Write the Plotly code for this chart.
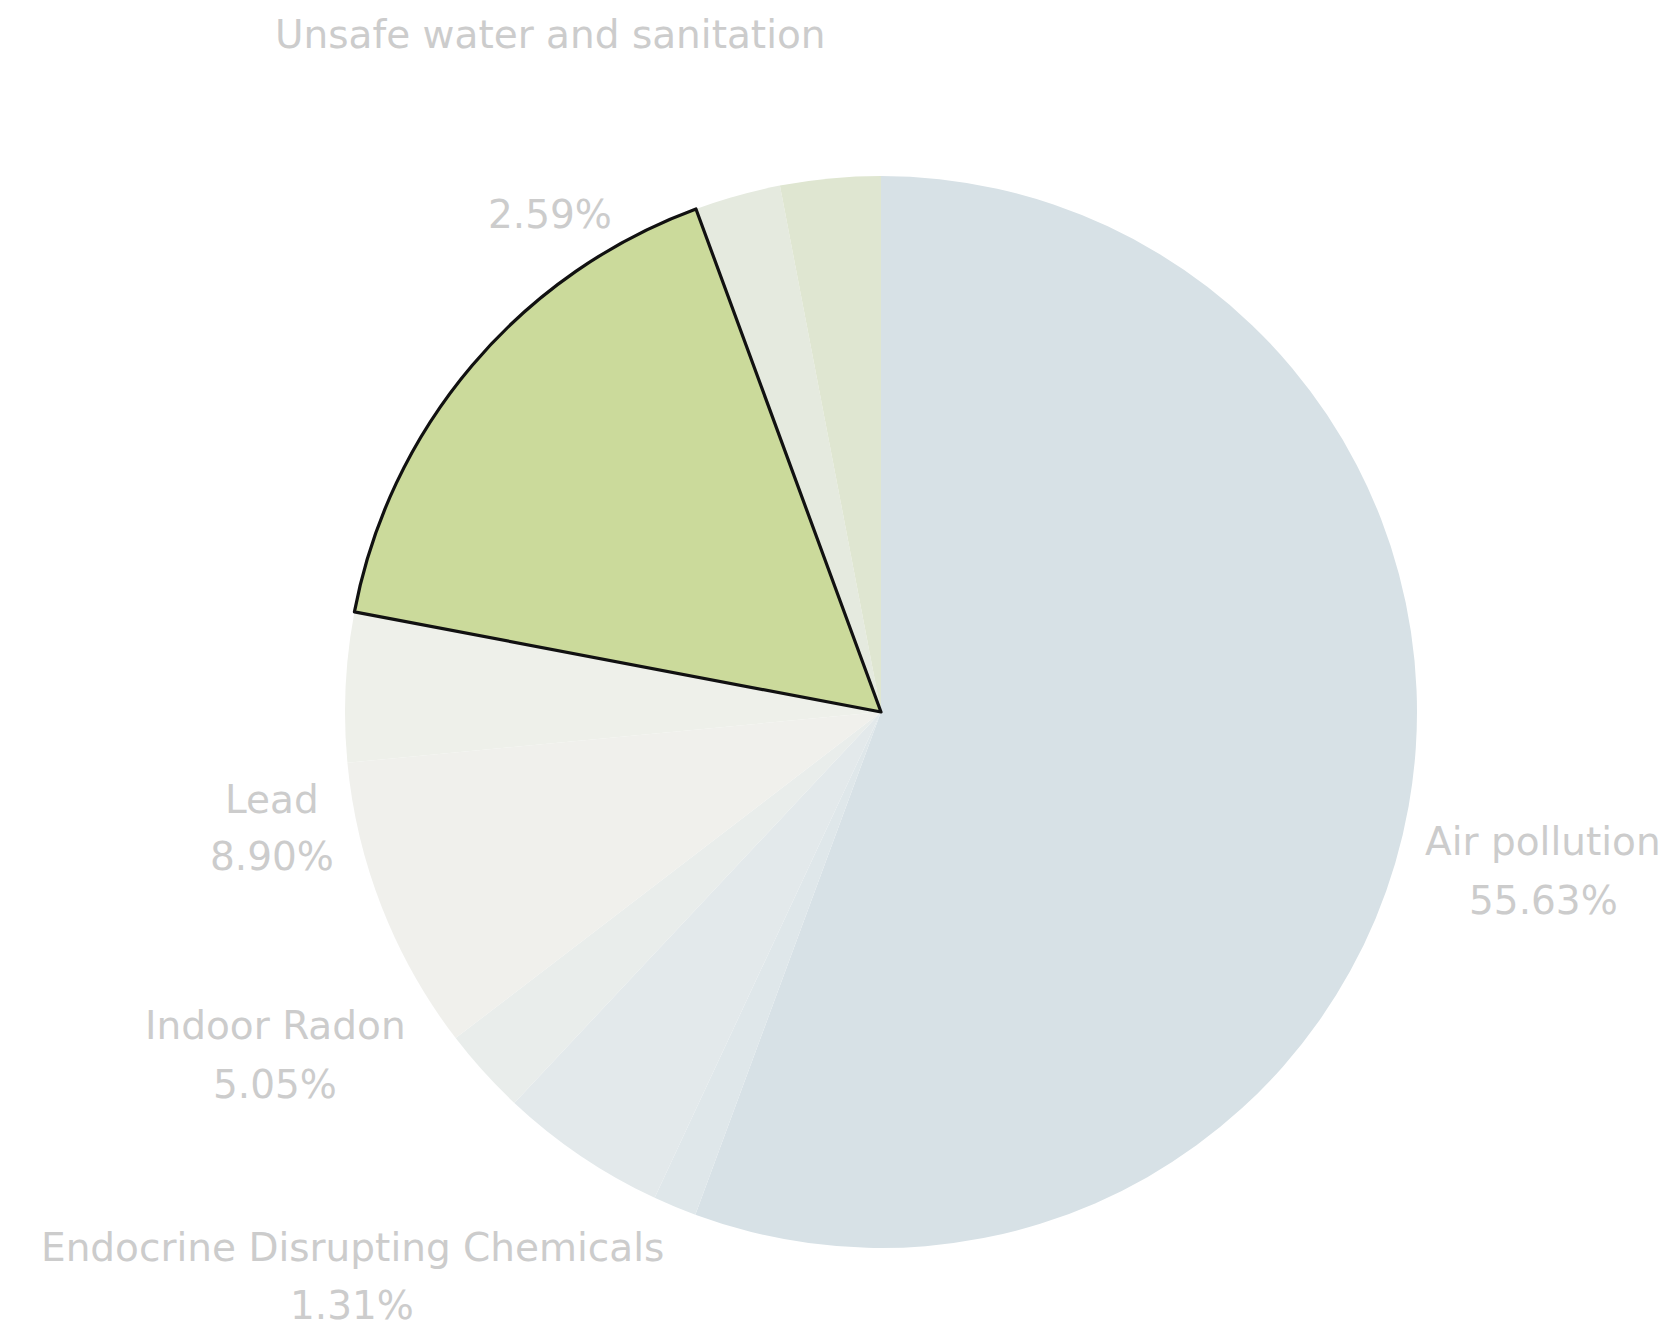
import plotly.graph_objects as go

# Share of environmental-risk burden by factor (percent), clockwise from 12 o'clock
categories = [
    "Air pollution",
    "Endocrine Disrupting Chemicals",
    "Indoor Radon",
    "Residential exposures",
    "Lead",
    "Household chemicals",
    "Occupational risks",
    "Unsafe water and sanitation",
    "Climate-related risks",
]
values = [55.63, 1.31, 5.05, 2.60, 8.90, 4.50, 16.40, 2.59, 3.02]

# Factors whose name / share are printed beside the pie
labelled = ["Air pollution", "Endocrine Disrupting Chemicals", "Indoor Radon",
            "Lead", "Unsafe water and sanitation"]
highlighted = "Occupational risks"

slice_colors = {
    "Air pollution": "#d7e1e6",
    "Endocrine Disrupting Chemicals": "#dfe7ea",
    "Indoor Radon": "#e3e9eb",
    "Residential exposures": "#e9edeb",
    "Lead": "#f0f0ec",
    "Household chemicals": "#eef0ea",
    "Occupational risks": "#cbda9b",
    "Unsafe water and sanitation": "#e5eadf",
    "Climate-related risks": "#dfe6d1",
}

# Label placement in pixels (name centre, percent centre)
label_pos = {
    "Air pollution": ((1543, 841), (1543, 900)),
    "Unsafe water and sanitation": ((550, 35), (550, 214)),
    "Lead": ((272, 799), (272, 856)),
    "Indoor Radon": ((275, 1025), (275, 1084)),
    "Endocrine Disrupting Chemicals": ((352, 1247), (352, 1305)),
}

W, H = 1674, 1330
cx, cy, r = 881, 712, 536
domain = dict(x=[(cx - r) / W, (cx + r) / W], y=[(H - cy - r) / H, (H - cy + r) / H])

fig = go.Figure()
fig.add_trace(go.Pie(
    labels=categories, values=values, sort=False, direction="clockwise", rotation=0,
    marker=dict(colors=[slice_colors[c] for c in categories], line=dict(width=0)),
    textinfo="none", domain=domain, showlegend=False,
    hovertemplate="%{label}: %{value:.2f}%<extra></extra>",
))
# Outline of the highlighted slice, drawn on top so neighbours don't cover it
fig.add_trace(go.Pie(
    labels=categories, values=values, sort=False, direction="clockwise", rotation=0,
    marker=dict(colors=["rgba(0,0,0,0)"] * len(categories),
                line=dict(color="#111111",
                          width=[3.2 if c == highlighted else 0 for c in categories])),
    textinfo="none", domain=domain, showlegend=False, hoverinfo="skip",
))

font = dict(family="DejaVu Sans, sans-serif", size=39, color="#cccccc")
for c, v in zip(categories, values):
    if c not in labelled:
        continue
    (nx, ny), (px, py) = label_pos[c]
    fig.add_annotation(text=c, x=nx / W, y=1 - ny / H, xref="paper", yref="paper",
                       showarrow=False, xanchor="center", yanchor="middle", font=font)
    fig.add_annotation(text=f"{v:.2f}%", x=px / W, y=1 - py / H, xref="paper", yref="paper",
                       showarrow=False, xanchor="center", yanchor="middle", font=font)

fig.update_layout(width=W, height=H, margin=dict(l=0, r=0, t=0, b=0),
                  paper_bgcolor="white", plot_bgcolor="white")
fig.write_html("out.html")
